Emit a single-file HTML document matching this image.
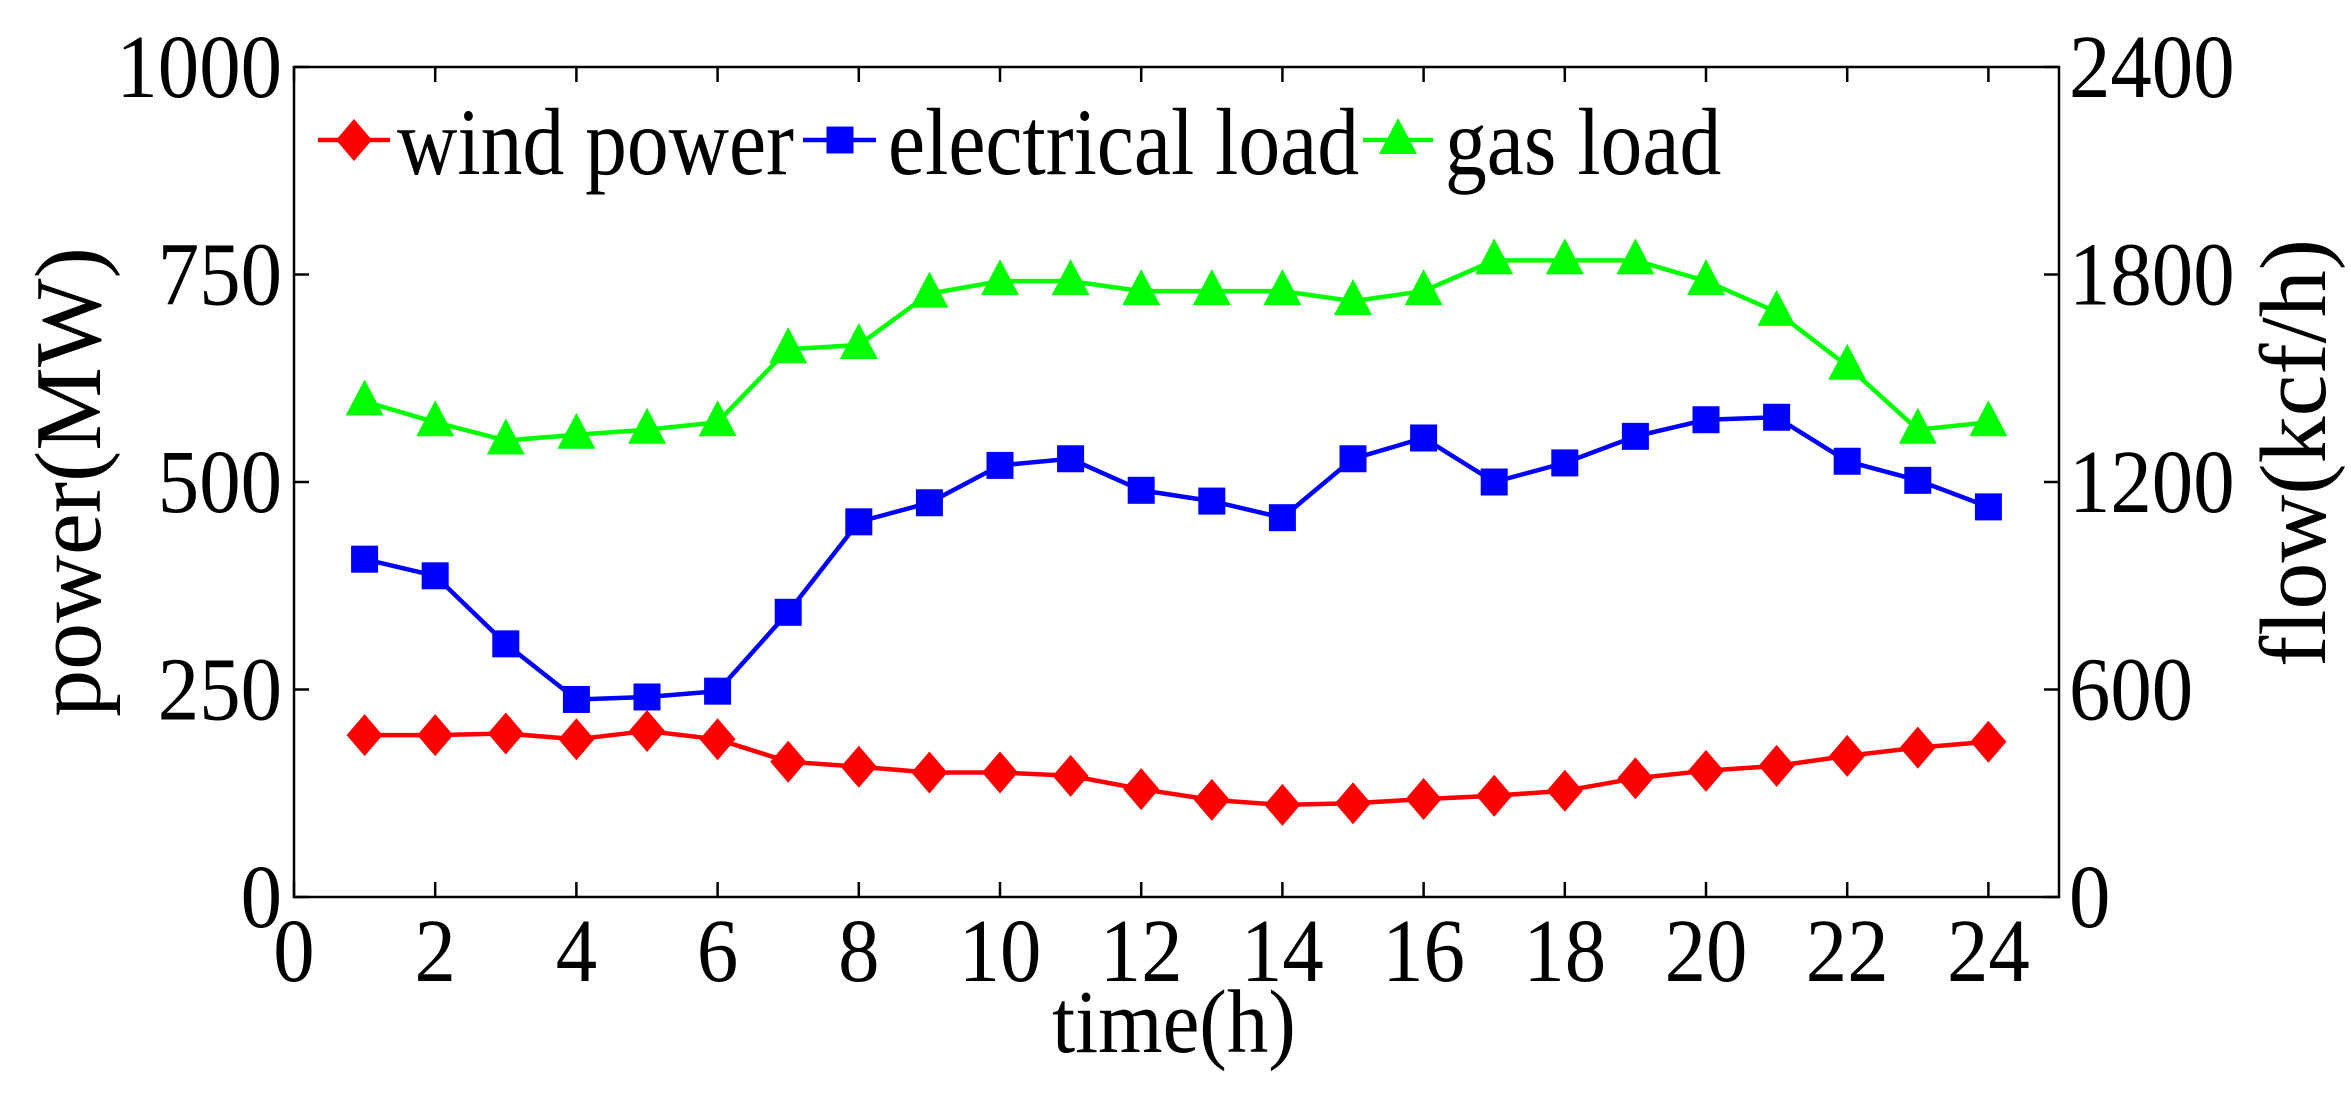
<!DOCTYPE html>
<html><head><meta charset="utf-8"><style>
html,body{margin:0;padding:0;background:#fff;}
svg{display:block;font-family:"Liberation Serif",serif;}
</style></head><body>
<svg id="s" width="2351" height="1095" xmlns="http://www.w3.org/2000/svg"></svg>
<script>
const L=294,R=2059,T=67,B=897;
const X=h=>L+(R-L)*h/25, Y=v=>B-(B-T)*v/1000;
let o='<rect width="2351" height="1095" fill="#fff"/>';
const wind=[195,195,197,190,200,190,163,157,150,150,146,130,117,111,113,118,122,128,143,152,158,170,180,187];
const elec=[407,387,305,238,241,248,343,452,475,520,528,490,477,457,528,553,500,523,555,575,578,525,502,470];
const gas=[597,572,550,557,563,572,660,665,727,742,742,730,730,730,718,730,767,767,767,742,705,640,563,572];
function line(d,c){return '<polyline fill="none" stroke="'+c+'" stroke-width="4.5" points="'+d.map((v,i)=>X(i+1).toFixed(1)+','+Y(v).toFixed(1)).join(' ')+'"/>';}
function dia(x,y){return `<polygon fill="#f00" points="${x},${y-21} ${x+18},${y} ${x},${y+21} ${x-18},${y}"/>`;}
function sq(x,y){return `<rect fill="#00f" x="${x-13.5}" y="${y-13.5}" width="27" height="27"/>`;}
function tri(x,y){return `<polygon fill="#0f0" points="${x},${y-22} ${x+19},${y+14} ${x-19},${y+14}"/>`;}
function tx(x,y,s,sz,sx,anchor){return `<text transform="translate(${x},${y}) scale(${sx},1)" font-size="${sz}" text-anchor="${anchor||'start'}">${s}</text>`;}
o+=line(gas,'#0f0')+line(elec,'#00f')+line(wind,'#f00');
gas.forEach((v,i)=>o+=tri(X(i+1),Y(v)));
elec.forEach((v,i)=>o+=sq(X(i+1),Y(v)));
wind.forEach((v,i)=>o+=dia(X(i+1),Y(v)));
o+=`<rect x="${L}" y="${T}" width="${R-L}" height="${B-T}" fill="none" stroke="#000" stroke-width="2.5"/>`;
for(let h=0;h<=24;h+=2){const x=X(h);o+=`<line x1="${x}" y1="${B}" x2="${x}" y2="${B-15}" stroke="#000" stroke-width="2.5"/><line x1="${x}" y1="${T}" x2="${x}" y2="${T+15}" stroke="#000" stroke-width="2.5"/>`;
o+=tx(x,B+84,h,90,0.92,'middle');}
const rl=[0,600,1200,1800,2400];
[0,250,500,750,1000].forEach((v,i)=>{const y=Y(v);o+=`<line x1="${L}" y1="${y}" x2="${L+15}" y2="${y}" stroke="#000" stroke-width="2.5"/><line x1="${R}" y1="${y}" x2="${R-15}" y2="${y}" stroke="#000" stroke-width="2.5"/>`;
o+=tx(L-12,y+30,v,90,0.92,'end');
o+=tx(R+10,y+30,rl[i],90,0.92);});
o+=tx(1174,1052,'time(h)',90,0.92,'middle');
o+=`<text transform="translate(100,482) rotate(-90)" font-size="94" text-anchor="middle">power(MW)</text>`;
o+=`<text transform="translate(2325,453) rotate(-90)" font-size="94" text-anchor="middle">flow(kcf/h)</text>`;
const ly=140, lb=174;
o+=`<line x1="318" y1="${ly}" x2="390" y2="${ly}" stroke="#f00" stroke-width="4.5"/>`+dia(354,ly);
o+=tx(397,lb,'wind power',95,0.88);
o+=`<line x1="803" y1="${ly}" x2="876" y2="${ly}" stroke="#00f" stroke-width="4.5"/>`+sq(840,ly);
o+=tx(888,lb,'electrical load',95,0.88);
o+=`<line x1="1363" y1="${ly}" x2="1433" y2="${ly}" stroke="#0f0" stroke-width="4.5"/>`+tri(1398,ly);
o+=tx(1445,lb,'gas load',95,0.88);
document.getElementById('s').innerHTML=o;
</script>
</body></html>
